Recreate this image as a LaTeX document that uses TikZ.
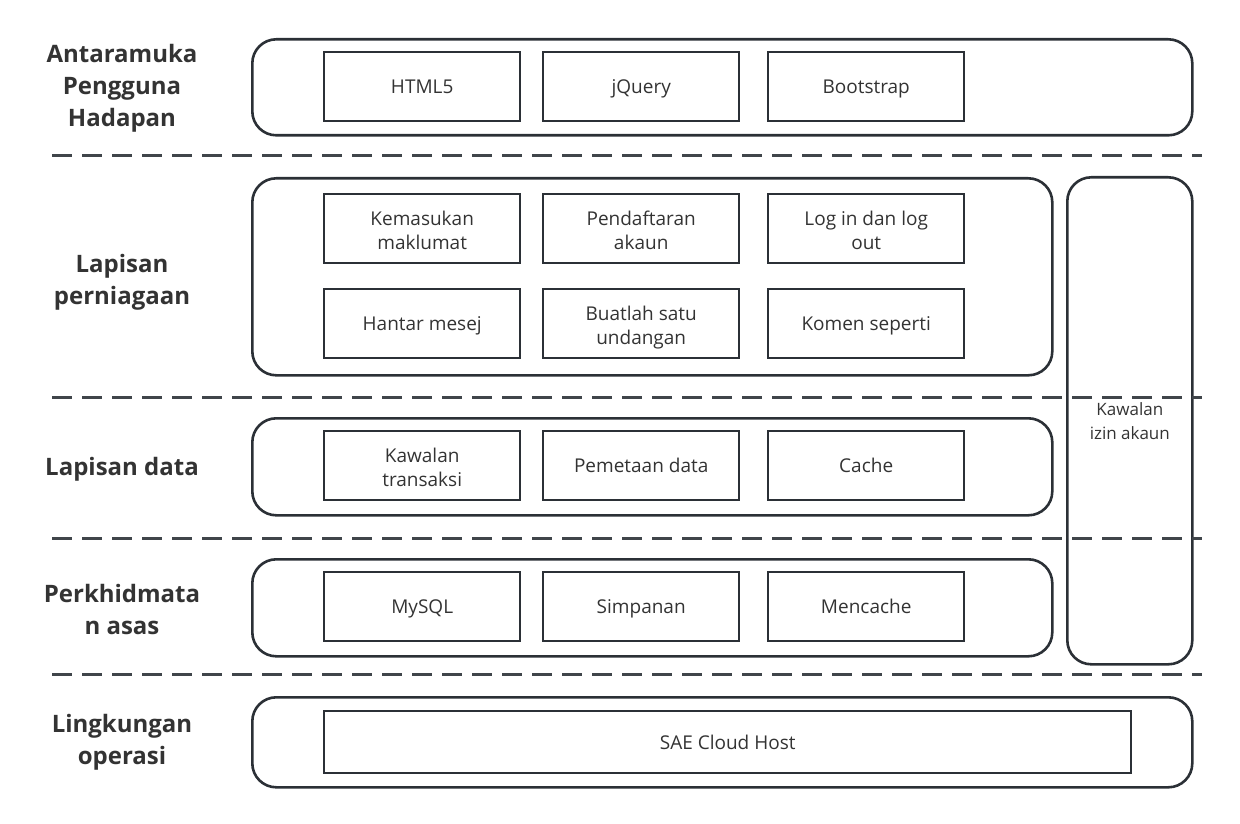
\documentclass[tikz,border=0pt]{standalone}
\usepackage{fontspec}
\setmainfont{Open Sans}
\usepackage{xcolor}
\usetikzlibrary{positioning}
\definecolor{edgegrey}{RGB}{43,48,54}
\definecolor{textgrey}{RGB}{51,51,51}

\begin{document}
\begin{tikzpicture}[x=1pt,y=-1pt,every node/.style={text=textgrey},
        layer/.style={rectangle,rounded corners=24pt,draw=edgegrey,line width=2.6pt,
          anchor=north west,inner sep=0pt,align=center,font=\fontsize{17}{24}\selectfont},
        item/.style={rectangle,draw=edgegrey,line width=2.4pt,anchor=north west,inner sep=0pt,
          minimum width=196pt,minimum height=69pt,align=center,font=\fontsize{19}{24}\selectfont,
          execute at begin node={\rule[-7pt]{0pt}{28pt}},execute at end node={\rule[-7pt]{0pt}{28pt}}},
        pair/.style={item,text height=48pt,text depth=7pt},
        tag/.style={align=center,font=\bfseries\fontsize{24}{32}\selectfont},
        sep/.style={draw=edgegrey!90,line width=3pt,dash pattern=on 20pt off 10pt}]
        \useasboundingbox (0,0) rectangle (1240,824);
        % layer frames
        \node[layer,minimum width=940pt,minimum height=96pt] (uiframe) at (251,38) {};
        \node[layer,minimum width=800pt,minimum height=197pt] (bizframe) at (251,177) {};
        \node[layer,minimum width=800pt,minimum height=97pt] (dataframe) at (251,417) {};
        \node[layer,minimum width=800pt,minimum height=97pt] (baseframe) at (251,558) {};
        \node[layer,minimum width=940pt,minimum height=90pt] (envframe) at (251,696) {};
        \node[layer,minimum width=125pt,minimum height=487pt] (acl) at (1066,176) {Kawalan\\izin akaun};
        % layer names
        \node[tag] (uitag) at (122,88) {Antaramuka\\Pengguna\\Hadapan};
        \node[tag] (biztag) at (122,282) {Lapisan\\perniagaan};
        \node[tag] (datatag) at (122,469) {Lapisan data};
        \node[tag] (basetag) at (122,609) {Perkhidmata\\n asas};
        \node[tag] (envtag) at (122,742) {Lingkungan\\operasi};
        % front end
        \node[item] (html) at (323,51) {HTML5};
        \node[item] (jquery) at (542,51) {jQuery};
        \node[item] (bootstrap) at (767,51) {Bootstrap};
        % business
        \node[pair] (input) at (323,193) {Kemasukan\\maklumat};
        \node[pair] (register) at (542,193) {Pendaftaran\\akaun};
        \node[pair] (login) at (767,193) {Log in dan log\\out};
        \node[item] (message) at (323,288) {Hantar mesej};
        \node[pair] (invite) at (542,288) {Buatlah satu\\undangan};
        \node[item] (comment) at (767,288) {Komen seperti};
        % data
        \node[pair] (trans) at (323,430) {Kawalan\\transaksi};
        \node[item] (mapping) at (542,430) {Pemetaan data};
        \node[item] (cache) at (767,430) {Cache};
        % base services
        \node[item] (mysql) at (323,571) {MySQL};
        \node[item] (storage) at (542,571) {Simpanan};
        \node[item] (memcache) at (767,571) {Mencache};
        % environment
        \node[item,minimum width=807pt,minimum height=62pt] (sae) at (323,710) {SAE Cloud Host};
        % separators
        \foreach \y in {156,397,538,674}
          \draw[sep] (52,\y) -- (1202,\y);
      \end{tikzpicture}
\end{document}
